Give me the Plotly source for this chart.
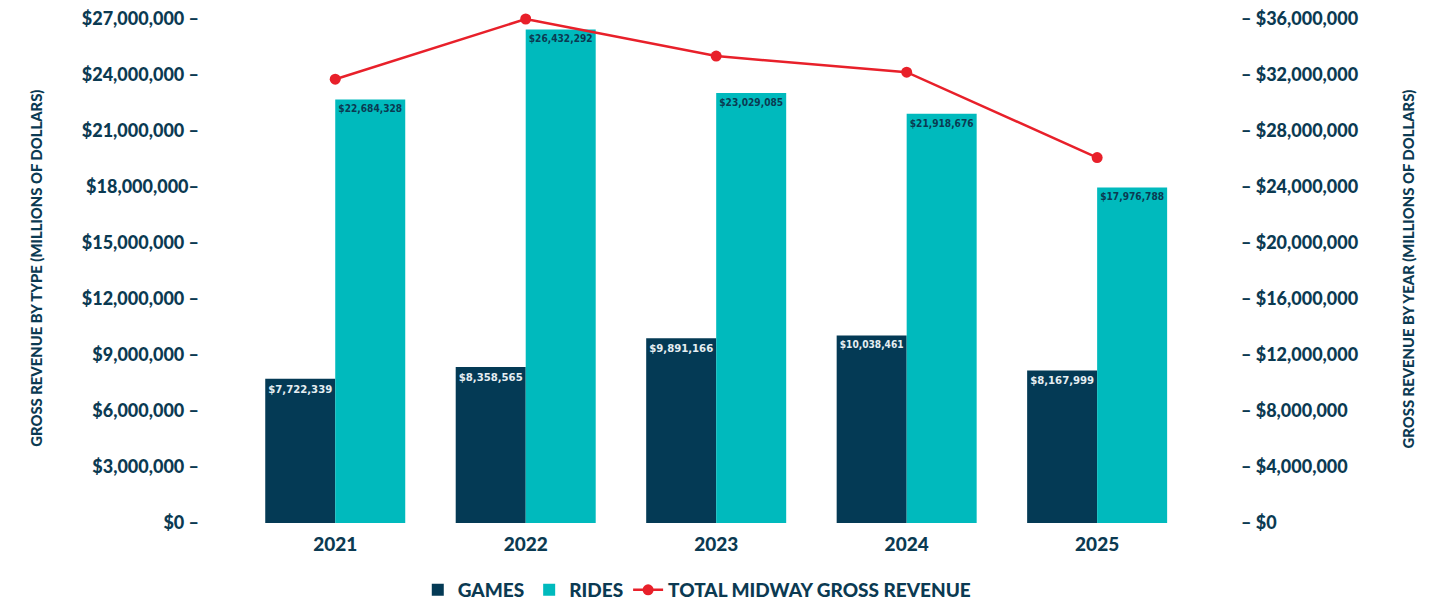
import plotly.graph_objects as go

years = ["2021", "2022", "2023", "2024", "2025"]
games = [7722339, 8358565, 9891166, 10038461, 8167999]
rides = [22684328, 26432292, 23029085, 21918676, 17976788]
total = [31700000, 36000000, 33350000, 32200000, 26100000]

left_ticks = [0, 3e6, 6e6, 9e6, 12e6, 15e6, 18e6, 21e6, 24e6, 27e6]
left_text = ["$0 –", "$3,000,000 –", "$6,000,000 –", "$9,000,000 –", "$12,000,000 –",
             "$15,000,000 –", "$18,000,000–", "$21,000,000 –", "$24,000,000 –", "$27,000,000 –"]
right_ticks = [0, 4e6, 8e6, 12e6, 16e6, 20e6, 24e6, 28e6, 32e6, 36e6]
right_text = ["– $0", "– $4,000,000", "– $8,000,000", "– $12,000,000", "– $16,000,000",
              "– $20,000,000", "– $24,000,000", "– $28,000,000", "– $32,000,000", "– $36,000,000"]

NAVY = "#043a55"
TEAL = "#00babd"
RED = "#e8202a"
TXT = "#0b3a52"
COND = "DejaVu Sans Condensed"

fig = go.Figure()
fig.add_trace(go.Bar(
    x=years, y=games, name="GAMES", marker_color=NAVY, marker_line_width=0,
    text=[f"${v:,}" for v in games], textposition="inside", insidetextanchor="end",
    textangle=0, textfont=dict(family=COND, size=11.5, color="#e6eef2", weight=700),
))
fig.add_trace(go.Bar(
    x=years, y=rides, name="RIDES", marker_color=TEAL, marker_line_width=0,
    text=[f"${v:,}" for v in rides], textposition="inside", insidetextanchor="end",
    textangle=0, textfont=dict(family=COND, size=11.5, color=TXT, weight=700),
))
fig.add_trace(go.Scatter(
    x=years, y=total, name="TOTAL MIDWAY GROSS REVENUE", yaxis="y2",
    mode="lines+markers", line=dict(color=RED, width=2.5),
    marker=dict(color=RED, size=11), cliponaxis=False,
))

TICKFONT = dict(family="Lato", weight=900, color=TXT, size=18)

fig.update_layout(
    width=1439, height=596,
    margin=dict(l=192, r=207, t=11, b=81),
    paper_bgcolor="white", plot_bgcolor="white",
    barmode="group", bargap=0.265, bargroupgap=0,
    showlegend=True,
    legend=dict(orientation="h", xref="container", yref="container",
                x=0.479, xanchor="center", y=0.0235, yanchor="middle",
                font=dict(family="Lato", weight=900, color=TXT, size=19),
                itemwidth=30, traceorder="normal"),
    xaxis=dict(range=[-0.71, 4.75], showgrid=False, zeroline=False, showline=False,
               ticks="", automargin=False, ticklabelstandoff=8,
               tickfont=dict(family="Lato", weight=900, color=TXT, size=19)),
    yaxis=dict(range=[0, 27e6], tickvals=left_ticks, ticktext=left_text,
               showgrid=False, zeroline=False, showline=False, ticks="", automargin=False,
               ticklabeloverflow="allow", tickfont=TICKFONT),
    yaxis2=dict(range=[0, 36e6], tickvals=right_ticks, ticktext=right_text,
                overlaying="y", side="right", automargin=False,
                ticklabeloverflow="allow",
                showgrid=False, zeroline=False, showline=False, ticks="",
                tickfont=TICKFONT),
    annotations=[
        dict(text="GROSS REVENUE BY TYPE (MILLIONS OF DOLLARS)", textangle=-90,
             xref="paper", yref="paper", x=-0.168, y=0.505, showarrow=False,
             font=dict(family="Lato", weight=900, color=TXT, size=14.8)),
        dict(text="GROSS REVENUE BY YEAR (MILLIONS OF DOLLARS)", textangle=-90,
             xref="paper", yref="paper", x=1.173, y=0.505, showarrow=False,
             font=dict(family="Lato", weight=900, color=TXT, size=14.8)),
    ],
)

fig.write_html("out.html")
